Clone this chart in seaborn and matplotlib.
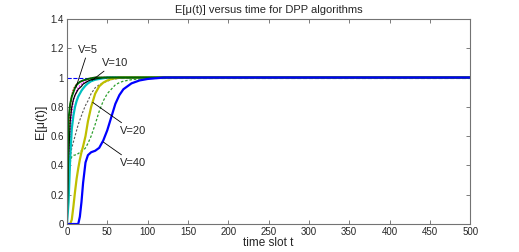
import seaborn as sns
import matplotlib.pyplot as plt
from matplotlib.ticker import FormatStrFormatter

t = [0, 2, 4, 6, 8, 10, 12, 14, 16, 18, 20, 23, 26, 30, 35, 40, 45, 50, 55, 60,
     65, 70, 80, 90, 100, 110, 120, 500]

green_solid = [0, 0.72, 0.82, 0.87, 0.90, 0.93, 0.95, 0.96, 0.97, 0.975, 0.98, 0.985, 0.99, 0.995,
               1, 1, 1, 1, 1, 1, 1, 1, 1, 1, 1, 1, 1, 1]
red_dot = [0, 0.55, 0.80, 0.88, 0.92, 0.94, 0.955, 0.965, 0.97, 0.975, 0.98, 0.985, 0.99, 0.995,
           1, 1, 1, 1, 1, 1, 1, 1, 1, 1, 1, 1, 1, 1]
black_solid = [0, 0.45, 0.70, 0.80, 0.85, 0.88, 0.90, 0.92, 0.93, 0.94, 0.955, 0.965, 0.975, 0.985,
               0.99, 0.995, 1, 1, 1, 1, 1, 1, 1, 1, 1, 1, 1, 1]
magenta_dot = [0, 0.35, 0.62, 0.76, 0.84, 0.88, 0.91, 0.93, 0.945, 0.955, 0.965, 0.975, 0.985, 0.99,
               0.995, 1, 1, 1, 1, 1, 1, 1, 1, 1, 1, 1, 1, 1]
cyan_solid = [0, 0.15, 0.45, 0.65, 0.74, 0.80, 0.84, 0.87, 0.89, 0.91, 0.925, 0.945, 0.96, 0.975,
              0.985, 0.99, 0.995, 1, 1, 1, 1, 1, 1, 1, 1, 1, 1, 1]
gray_dash = [0, 0.35, 0.45, 0.52, 0.56, 0.60, 0.64, 0.68, 0.71, 0.74, 0.77, 0.81, 0.84, 0.89,
             0.93, 0.95, 0.965, 0.975, 0.985, 0.99, 0.995, 1, 1, 1, 1, 1, 1, 1]
yellow_solid = [0, 0, 0, 0.03, 0.12, 0.22, 0.31, 0.38, 0.44, 0.49, 0.53, 0.60, 0.70, 0.80,
                0.89, 0.94, 0.965, 0.98, 0.99, 0.995, 1, 1, 1, 1, 1, 1, 1, 1]
green_dash = [0, 0.30, 0.42, 0.46, 0.47, 0.47, 0.48, 0.48, 0.49, 0.50, 0.50, 0.52, 0.55, 0.60,
              0.68, 0.77, 0.84, 0.89, 0.92, 0.95, 0.965, 0.975, 0.985, 0.99, 0.995, 1, 1, 1]
blue_solid = [0, 0, 0, 0, 0, 0, 0, 0, 0.05, 0.15, 0.28, 0.42, 0.47, 0.49, 0.50, 0.52, 0.57, 0.64,
              0.73, 0.82, 0.88, 0.92, 0.96, 0.98, 0.99, 0.995, 1, 1]

xticks = list(range(0, 501, 50))
yticks = [0, 0.2, 0.4, 0.6, 0.8, 1, 1.2, 1.4]

sns.set_style("ticks", {"xtick.direction": "in", "ytick.direction": "in"})
plt.rcParams['font.family'] = ['Liberation Sans', 'DejaVu Sans']

fig, ax = plt.subplots(figsize=(5.19, 2.52), dpi=100)
fig.subplots_adjust(left=0.129, right=0.906, bottom=0.111, top=0.925)

ax.axhline(1, color='blue', ls='--', lw=0.8)

curves = [
    (green_dash, 'tab:green', (0, (2, 1.5)), 0.9),
    (gray_dash, '0.35', (0, (2, 1.5)), 0.8),
    (magenta_dot, 'magenta', (0, (1, 1)), 1.0),
    (red_dot, 'red', (0, (1, 1)), 1.0),
    (cyan_solid, 'c', '-', 1.6),
    (yellow_solid, 'y', '-', 1.6),
    (black_solid, 'black', '-', 0.9),
    (green_solid, 'darkgreen', '-', 1.4),
    (blue_solid, 'blue', '-', 1.6),
]
for vals, col, ls, lw in curves:
    sns.lineplot(x=t, y=vals, ax=ax, color=col, linestyle=ls, linewidth=lw)

ax.set_xlim(0, 500)
ax.set_ylim(0, 1.4)
ax.set_xticks(xticks)
ax.set_yticks(yticks)
ax.yaxis.set_major_formatter(FormatStrFormatter('%g'))
ax.tick_params(top=True, right=True, labelsize=7, length=3, width=0.6, color='0.4', pad=2)
for s in ax.spines.values():
    s.set_color('0.45')
    s.set_linewidth(0.8)

ax.set_title("E[μ(t)] versus time for DPP algorithms", fontsize=8, pad=4)
ax.set_xlabel("time slot t", fontsize=8.5, labelpad=0)
ax.set_ylabel("E[μ(t)]", fontsize=9, labelpad=3)

arrow = dict(arrowstyle='-', color='black', lw=0.6, shrinkA=0, shrinkB=0)
ax.annotate("V=5", xy=(11, 0.93), xytext=(14, 1.19), fontsize=8, va='center', arrowprops=arrow)
ax.annotate("V=10", xy=(31, 0.98), xytext=(43, 1.10), fontsize=8, va='center', arrowprops=arrow)
ax.annotate("V=20", xy=(32, 0.83), xytext=(66, 0.635), fontsize=8, va='center', arrowprops=arrow)
ax.annotate("V=40", xy=(45, 0.56), xytext=(66, 0.416), fontsize=8, va='center', arrowprops=arrow)

fig.savefig("out.png", dpi=100)
